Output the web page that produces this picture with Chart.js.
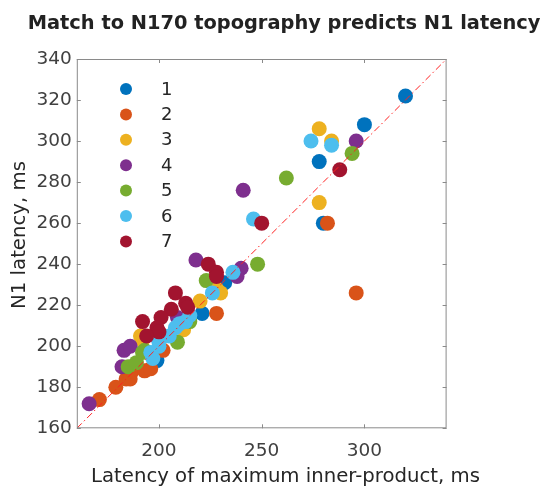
<!DOCTYPE html>
<html>
<head>
<meta charset="utf-8">
<script src="https://cdn.jsdelivr.net/npm/chart.js@4"></script>
<style>
  html, body { margin: 0; padding: 0; background: #fff; }
</style>
</head>
<body>
<canvas id="n1-scatter" width="542" height="487"></canvas>
<script>
const chart_title = "Match to N170 topography predicts N1 latency";
const x_title = "Latency of maximum inner-product, ms";
const y_title = "N1 latency, ms";

const x_ticks = [200, 250, 300];
const y_ticks = [160, 180, 200, 220, 240, 260, 280, 300, 320, 340];
const axis_min = 160;
const axis_max = 340;

const subject_labels = ["1", "2", "3", "4", "5", "6", "7"];
const subject_colors = ["#0072BD", "#D95319", "#EDB120", "#7E2F8E", "#77AC30", "#4DBEEE", "#A2142F"];

// [latency of max inner-product, N1 latency] per subject
const subj1 = [[320,322],[300,308],[278,290],[280,260],[232,231],[221,216],[199,193]];
const subj2 = [[171,174],[179,180],[184,184],[186,184],[187,188],[193,188],[196,189],[202,198],[228,216],[282,260],[296,226]];
const subj3 = [[278,306],[284,300],[278,270],[230,226],[228,228],[220,222],[212,208],[191,205],[192,203]];
const subj4 = [[166,172],[182,190],[183,198],[186,200],[209,214],[218,242],[241,276],[240,238],[238,234],[296,300]];
const subj5 = [[294,294],[262,282],[248,240],[223,232],[215,212],[209,202],[185,190],[189,192],[192,197],[193,198]];
const subj6 = [[274,300],[284,298],[246,262],[236,236],[226,226],[215,215],[213,212],[210,211],[208,209],[205,205],[200,202],[200,200],[197,194],[196,197]];
const subj7 = [[288,286],[250,260],[224,240],[228,236],[228,234],[208,226],[206,218],[213,221],[214,219],[201,214],[199,209],[200,207],[192,212],[194,205]];

const all_subjects = [subj1, subj2, subj3, subj4, subj5, subj6, subj7];

const text_font = "'DejaVu Sans', 'Liberation Sans', sans-serif";

const datasets = all_subjects.map((pts, i) => ({
    type: 'scatter',
    label: subject_labels[i],
    data: pts.map(p => ({ x: p[0], y: p[1] })),
    backgroundColor: subject_colors[i],
    borderWidth: 0,
    pointRadius: 7.5,
    pointHoverRadius: 7.5,
    order: 7 - i   // later subjects sit on top
}));

// identity line
datasets.push({
    type: 'line',
    label: 'identity',
    data: [{ x: axis_min, y: axis_min }, { x: axis_max, y: axis_max }],
    borderColor: '#ff2020',
    borderWidth: 1,
    borderDash: [7, 3, 1.5, 3],
    pointRadius: 0,
    fill: false,
    order: -1
});

// title, axis labels, box, inward ticks and the legend
const frame_plugin = {
    id: 'frame',
    afterDatasetsDraw(chart) {
        const ctx = chart.ctx;
        const a = chart.chartArea;
        const xs = chart.scales.x, ys = chart.scales.y;
        ctx.save();

        ctx.strokeStyle = '#8a8a8a';
        ctx.lineWidth = 1;
        ctx.strokeRect(a.left + 0.5, a.top + 0.5, a.right - a.left - 1, a.bottom - a.top - 1);

        const tl = 4;
        ctx.beginPath();
        x_ticks.forEach(v => {
            const px = Math.round(xs.getPixelForValue(v)) + 0.5;
            ctx.moveTo(px, a.bottom); ctx.lineTo(px, a.bottom - tl);
            ctx.moveTo(px, a.top); ctx.lineTo(px, a.top + tl);
        });
        y_ticks.forEach(v => {
            const py = Math.round(ys.getPixelForValue(v)) + 0.5;
            ctx.moveTo(a.left, py); ctx.lineTo(a.left + tl, py);
            ctx.moveTo(a.right, py); ctx.lineTo(a.right - tl, py);
        });
        ctx.stroke();

        // legend
        ctx.font = "18px " + text_font;
        ctx.textBaseline = 'middle';
        ctx.textAlign = 'left';
        subject_labels.forEach((lab, i) => {
            const cy = 89 + i * 25.4;
            ctx.fillStyle = subject_colors[i];
            ctx.beginPath();
            ctx.arc(126, cy, 6, 0, Math.PI * 2);
            ctx.fill();
            ctx.fillStyle = '#262626';
            ctx.fillText(lab, 161, cy + 1);
        });

        // axis labels
        ctx.font = "19.7px " + text_font;
        ctx.textAlign = 'center';
        ctx.fillStyle = '#262626';
        ctx.fillText(x_title, 285.5, 477);
        ctx.save();
        ctx.translate(20, 235);
        ctx.rotate(-Math.PI / 2);
        ctx.fillText(y_title, 0, 0);
        ctx.restore();

        // title
        ctx.font = "bold 19.4px " + text_font;
        ctx.textAlign = 'center';
        ctx.fillStyle = '#222';
        ctx.fillText(chart_title, 284, 24);

        ctx.restore();
    }
};

new Chart(document.getElementById("n1-scatter"), {
    data: { datasets: datasets },
    plugins: [frame_plugin],
    options: {
        responsive: false,
        animation: false,
        events: [],
        layout: { padding: { top: 59, right: 95.4, bottom: 0, left: 0 } },
        plugins: {
            legend: { display: false },
            tooltip: { enabled: false },
            title: { display: false }
        },
        scales: {
            x: {
                type: 'linear',
                min: axis_min,
                max: axis_max,
                afterBuildTicks: s => { s.ticks = x_ticks.map(v => ({ value: v })); },
                afterFit: s => { s.height = 58.7; },
                grid: { display: false, drawTicks: false },
                border: { display: false },
                ticks: {
                    padding: 12,
                    color: '#404040',
                    font: { family: text_font, size: 18.5 }
                }
            },
            y: {
                type: 'linear',
                min: axis_min,
                max: axis_max,
                afterBuildTicks: s => { s.ticks = y_ticks.map(v => ({ value: v })); },
                afterFit: s => { s.width = 76.8; },
                grid: { display: false, drawTicks: false },
                border: { display: false },
                ticks: {
                    padding: 5,
                    color: '#404040',
                    font: { family: text_font, size: 18.5 }
                }
            }
        }
    }
});
</script>
</body>
</html>
